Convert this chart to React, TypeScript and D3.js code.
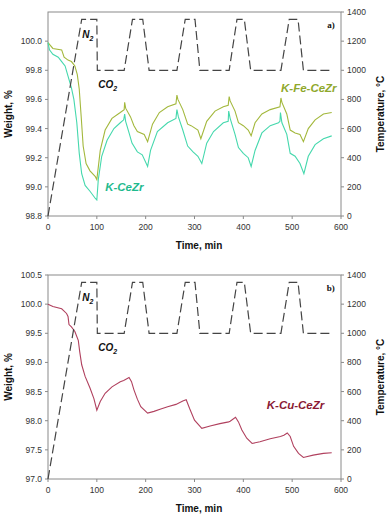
import * as d3 from 'd3'

const W = 387
const H = 516
const FONT = 'Liberation Sans, Arial, sans-serif'

// temperature program (dashed), shared by both panels
const tempTime = [0, 69, 100, 101, 156, 173, 194, 207, 264, 281, 301, 311, 371, 387, 402, 415, 477, 494, 512, 523, 581]
const tempValue = [0, 1350, 1350, 1000, 1000, 1350, 1350, 1000, 1000, 1350, 1350, 1000, 1000, 1350, 1350, 1000, 1000, 1350, 1350, 1000, 1000]

// panel a) K-Fe-CeZr
const feTime = [0, 10, 28, 33, 41, 48, 55, 60, 64, 68, 72, 78, 86, 97, 100, 107, 117, 131, 148, 156, 157, 159, 169, 176, 183, 197, 204, 214, 228, 245, 262, 264, 266, 276, 286, 293, 307, 313, 325, 342, 359, 369, 371, 373, 383, 390, 400, 410, 416, 424, 438, 455, 475, 477, 479, 489, 496, 506, 516, 523, 533, 547, 564, 581]
const feWeight = [99.99, 99.95, 99.94, 99.89, 99.87, 99.86, 99.83, 99.77, 99.67, 99.48, 99.28, 99.16, 99.11, 99.07, 99.05, 99.25, 99.39, 99.47, 99.51, 99.53, 99.58, 99.54, 99.48, 99.42, 99.38, 99.36, 99.31, 99.43, 99.51, 99.55, 99.57, 99.63, 99.6, 99.53, 99.43, 99.42, 99.39, 99.33, 99.45, 99.52, 99.55, 99.56, 99.62, 99.59, 99.52, 99.44, 99.42, 99.39, 99.35, 99.44, 99.5, 99.53, 99.55, 99.61, 99.58, 99.5, 99.39, 99.37, 99.36, 99.31, 99.4, 99.46, 99.5, 99.51]

// panel a) K-CeZr
const ceTime = [0, 3, 10, 21, 28, 35, 41, 48, 53, 59, 64, 69, 76, 86, 97, 100, 103, 110, 121, 135, 148, 155, 157, 159, 166, 172, 183, 193, 204, 210, 224, 245, 262, 264, 267, 276, 286, 297, 307, 315, 325, 339, 359, 369, 370, 373, 383, 390, 400, 410, 416, 424, 438, 455, 472, 475, 476, 479, 489, 496, 506, 516, 524, 533, 547, 564, 581]
const ceWeight = [99.99, 99.94, 99.91, 99.89, 99.86, 99.83, 99.76, 99.68, 99.6, 99.44, 99.23, 99.09, 99.01, 98.97, 98.92, 98.91, 99.05, 99.21, 99.32, 99.4, 99.44, 99.46, 99.5, 99.45, 99.37, 99.3, 99.24, 99.22, 99.14, 99.25, 99.38, 99.44, 99.47, 99.53, 99.48, 99.39, 99.28, 99.24, 99.21, 99.16, 99.3, 99.38, 99.44, 99.45, 99.52, 99.47, 99.36, 99.27, 99.23, 99.2, 99.14, 99.25, 99.37, 99.42, 99.44, 99.45, 99.51, 99.44, 99.36, 99.23, 99.21, 99.16, 99.09, 99.21, 99.29, 99.33, 99.35]

// panel b) K-Cu-CeZr
const cuTime = [0, 10, 28, 38, 41, 43, 48, 55, 62, 65, 69, 76, 86, 94, 100, 107, 117, 131, 148, 155, 166, 171, 176, 183, 190, 204, 217, 231, 245, 262, 276, 283, 290, 300, 315, 332, 352, 370, 373, 384, 390, 397, 407, 418, 434, 455, 476, 483, 490, 496, 503, 513, 523, 543, 564, 581]
const cuWeight = [100.0, 99.96, 99.92, 99.84, 99.79, 99.65, 99.61, 99.53, 99.38, 99.18, 98.96, 98.76, 98.56, 98.38, 98.18, 98.33, 98.47, 98.58, 98.67, 98.69, 98.74, 98.67, 98.53, 98.37, 98.24, 98.13, 98.16, 98.2, 98.24, 98.28, 98.34, 98.36, 98.21, 98.01, 97.87, 97.91, 97.95, 97.98, 97.99, 98.06, 97.98, 97.84, 97.7, 97.61, 97.64, 97.69, 97.73, 97.75, 97.79, 97.73, 97.56, 97.44, 97.37, 97.41, 97.44, 97.45]

const timeTicks = [0, 100, 200, 300, 400, 500, 600]
const tempTicks = [0, 200, 400, 600, 800, 1000, 1200, 1400]
const weightTicksA = [98.8, 99.0, 99.2, 99.4, 99.6, 99.8, 100.0]
const weightTicksB = [97.0, 97.5, 98.0, 98.5, 99.0, 99.5, 100.0, 100.5]

type Series = { time: number[]; weight: number[]; color: string; label: string; labelColor: string; lx: number; lw: number; anchor: string }

function Panel({
  top,
  bottom,
  yDomain,
  yTicks,
  series,
  letter,
}: {
  top: number
  bottom: number
  yDomain: [number, number]
  yTicks: number[]
  series: Series[]
  letter: string
}) {
  const left = 48
  const right = 341
  const x = d3.scaleLinear().domain([0, 600]).range([left, right])
  const y = d3.scaleLinear().domain(yDomain).range([bottom, top])
  const yT = d3.scaleLinear().domain([0, 1400]).range([bottom, top])

  const tempLine = d3
    .line<number>()
    .x((d) => x(d))
    .y((_, i) => yT(tempValue[i]))
  const axisColor = '#8a8a8a'
  const tickColor = '#333'
  const fmt = d3.format('.1f')

  return (
    <g fontFamily={FONT}>
      <rect x={left} y={top} width={right - left} height={bottom - top} fill="none" stroke={axisColor} strokeWidth={1} />
      {yTicks.map((t) => (
        <g key={'l' + t}>
          <line x1={left - 3} x2={left} y1={y(t)} y2={y(t)} stroke={axisColor} />
          <text x={left - 6} y={y(t)} dy="0.35em" textAnchor="end" fontSize={8.5} fill={tickColor}>
            {fmt(t)}
          </text>
        </g>
      ))}
      {tempTicks.map((t) => (
        <g key={'r' + t}>
          <line x1={right} x2={right + 3} y1={yT(t)} y2={yT(t)} stroke={axisColor} />
          <text x={right + 6} y={yT(t)} dy="0.35em" textAnchor="start" fontSize={8.5} fill={tickColor}>
            {t}
          </text>
        </g>
      ))}
      {timeTicks.map((t) => (
        <g key={'b' + t}>
          <line x1={x(t)} x2={x(t)} y1={bottom} y2={bottom + 3} stroke={axisColor} />
          <text x={x(t)} y={bottom + 11} dy="0.35em" textAnchor="middle" fontSize={8.5} fill={tickColor}>
            {t}
          </text>
        </g>
      ))}
      <text x={199} y={bottom + 33} textAnchor="middle" fontSize={10} fontWeight="bold" fill="#111">
        Time, min
      </text>
      <text
        transform={`translate(12,${(top + bottom) / 2}) rotate(-90)`}
        textAnchor="middle"
        fontSize={10}
        fontWeight="bold"
        fill="#111"
      >
        Weight, %
      </text>
      <text
        transform={`translate(384,${(top + bottom) / 2}) rotate(-90)`}
        textAnchor="middle"
        fontSize={10}
        fontWeight="bold"
        fill="#111"
      >
        Temperature, °C
      </text>

      {series.map((s) => {
        const line = d3
          .line<number>()
          .x((d) => x(d))
          .y((_, i) => y(s.weight[i]))
        return <path key={s.label} d={line(s.time) ?? undefined} fill="none" stroke={s.color} strokeWidth={1.1} />
      })}
      <path d={tempLine(tempTime) ?? undefined} fill="none" stroke="#444" strokeWidth={1.2} strokeDasharray="9,4" />

      <text x={x(70)} y={yT(1220)} fontSize={10} fontWeight="bold" fontStyle="italic" fill="#111">
        N<tspan fontSize={7} dy={3}>2</tspan>
      </text>
      <text x={x(103)} y={yT(880)} fontSize={10} fontWeight="bold" fontStyle="italic" fill="#111">
        CO<tspan fontSize={7} dy={3}>2</tspan>
      </text>
      <text x={x(587)} y={top + 16} textAnchor="end" fontSize={9} fontWeight="bold" fontFamily="Liberation Serif, serif" fill="#111">
        {letter}
      </text>
      {series.map((s) => (
        <text
          key={'lab' + s.label}
          x={x(s.lx)}
          y={y(s.lw)}
          textAnchor={s.anchor}
          fontSize={11.5}
          fontWeight="bold"
          fontStyle="italic"
          fill={s.labelColor}
        >
          {s.label}
        </text>
      ))}
    </g>
  )
}

export default function App() {
  const seriesA: Series[] = [
    { time: feTime, weight: feWeight, color: '#a3b83c', label: 'K-Fe-CeZr', labelColor: '#8fa82c', lx: 591, lw: 99.65, anchor: 'end' },
    { time: ceTime, weight: ceWeight, color: '#45d8ad', label: 'K-CeZr', labelColor: '#1fba8e', lx: 117, lw: 98.975, anchor: 'start' },
  ]
  const seriesB: Series[] = [
    { time: cuTime, weight: cuWeight, color: '#b0405e', label: 'K-Cu-CeZr', labelColor: '#8a1a34', lx: 448, lw: 98.2, anchor: 'start' },
  ]
  return (
    <svg width={W} height={H} style={{ position: 'absolute', left: 0, top: 0, background: '#fff' }}>
      <Panel top={12} bottom={216} yDomain={[98.8, 100.2]} yTicks={weightTicksA} series={seriesA} letter="a)" />
      <Panel top={275} bottom={479} yDomain={[97.0, 100.5]} yTicks={weightTicksB} series={seriesB} letter="b)" />
    </svg>
  )
}
